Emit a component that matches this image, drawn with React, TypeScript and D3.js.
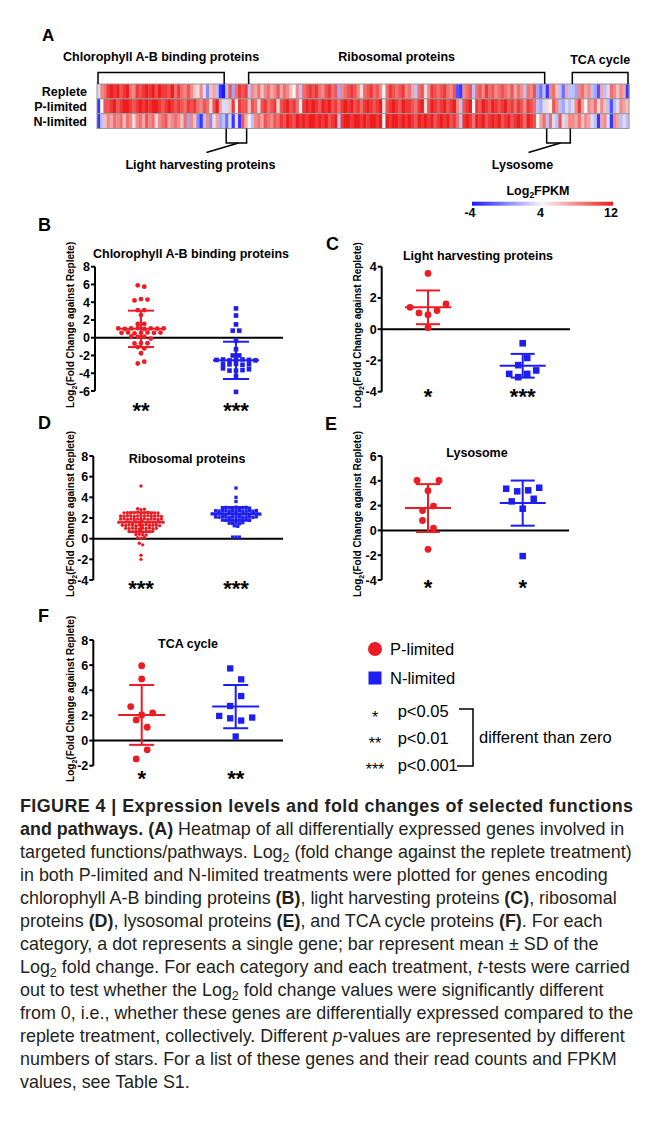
import React from "react";
import * as d3 from "d3";

const FONT = "'Liberation Sans', Arial, Helvetica, sans-serif";
const RED = "#ec1c24";
const BLUE = "#1e1ef0";
const HEAT_BLUE = "#1a1aff";
const HEAT_WHITE = "#f6f6f6";
const HEAT_RED = "#ee1c1c";

// ---------------- Panel A: heatmap (Log2 FPKM) ----------------
const heatGroupNames = [
  "Chlorophyll A-B binding proteins",
  "Light harvesting proteins",
  "Ribosomal proteins",
  "Lysosome",
  "TCA cycle",
];
const heatGroupSizes = [40, 7, 93, 8, 18];
const heatRowNames = ["Replete", "P-limited", "N-limited"];
const heatReplete = [
  3, 8, 9, 11, 12, 11, 12, 10, 11, 12, 9, 8, 11, 10, 11, 12, 11, 12, 10, 12, 11, 11, 10, 12, 9, 11, 9, 8, 10, 8, 6, 5, 8, 3, 0, 6, 7, 2, -3, -4,
  2, 10, 1, 9, 11, 10, 11,
  2, 8, 7, 9, 6, 8, 9, 7, 8, 10, 7, 9, 8, 6, 4, 8, 2, 9, 10, 11, 10, 11, 9, 8, 10, 11, 9, 10, 1, 8, 9, 10, 11, 10, 8, 5, 9, 10, 11, 9,
  10, 8, 4, 9, 11, 10, 9, 10, 11, 8, 9, 7, 2, 9, 10, 5, 8, 11, 10, 9, 10, 11, 9, 8, 10, -2, -3, 8, 9, 10, 2, 9, 10, 8, 11, 9, 10, 8, 9, 10,
  9, 8, 10, 7, 9, 8, 2, 9, 8, 10, 1, -1, 2,
  -3, 8, 9, 6, 2, -1, 7, 2,
  2, 1, 8, 9, 7, 8, 2, 1, -2, 7, 2, 3, 9, 8, 6, 8, 7, -3,
];
const heatPLimited = [
  -3, 4, 10, 10, 11, 12, 10, 11, 12, 12, 11, 10, 11, 12, 11, 12, 11, 12, 12, 11, 10, 11, 12, 11, 10, 11, 10, 9, 11, 10, 11, 9, 8, 10, 9, 5, 10, 12, 7, 3,
  3, 6, 11, 4, 11, 10, 10,
  6, 10, 9, 5, 10, 11, 9, 10, 11, 5, 10, 11, 12, 10, 11, 9, 4, 11, 12, 11, 12, 11, 10, 12, 11, 12, 10, 11, 9, 11, 12, 11, 12, 10, 11, 9, 11, 12, 11, 10,
  11, 12, 5, 10, 11, 12, 11, 10, 12, 11, 11, 10, 9, 11, 12, 5, 10, 12, 11, 10, 11, 12, 10, 11, 12, 8, 2, 10, 11, 12, 4, 11, 10, 12, 11, 10, 12, 11, 10, 11,
  12, 10, 11, 9, 11, 10, 8, 11, 10, 9, 2, 1, 3,
  5, 4, 10, 8, 2, 1, 3, 2,
  3, 8, 11, 7, 4, 8, 7, 9, 5, 8, 6, 2, -2, 2, 3, 8, 7, 6,
];
const heatNLimited = [
  -3, 2, 6, 8, 7, 9, 8, 9, 6, 9, 8, 5, 8, 9, 7, 10, 8, 9, 5, 8, 9, 10, 7, 8, 9, 8, 6, 9, 1, 8, 6, 0, -3, 2, 8, 0, 5, 7, 1, 2,
  -1, 3, -3, 5, -3, 10, 7,
  4, 2, 8, 9, 7, 10, 9, 8, 10, 9, 11, 10, 12, 11, 10, 12, 11, 12, 11, 12, 12, 11, 12, 11, 12, 10, 11, 12, 2, 11, 12, 12, 11, 12, 12, 11, 12, 11, 12, 12,
  11, 12, 4, 12, 11, 12, 12, 11, 12, 11, 12, 11, 10, 12, 11, 12, 11, 12, 10, 11, 12, 11, 12, 10, 11, 9, 2, 11, 12, 11, 9, 12, 11, 12, 10, 11, 12, 11, 12, 10,
  11, 12, 10, 11, 12, 11, 9, 12, 11, 10, 4, 7, 9,
  2, 9, 3, 2, 10, 3, 6, 8,
  8, 7, 9, 6, 8, 7, 3, 2, -3, 7, 8, 3, -3, 8, 7, 2, 3, 2,
];
const colorbarTicks = [-4, 4, 12];

// ---------------- Panels B-F: Log2 fold change vs replete ----------------
// B: Chlorophyll A-B binding proteins
const chlP = [5.9, 5.75, 4.2, 4.35, 4.3, 3.1, 3.1, 2.55, 1.55, 1.55, 1.05, 1.0, 1.05, 1.08, 1.0, 1.05, 1.02, 1.05, 0.55, 0.6, 0.5, 0.55, 0.6, 0.55, 0.58, 0.15, 0.1, 0.12, -0.1, -0.65, -0.6, -0.62, -1.05, -1.2, -1.75, -2.9, -2.7];
const chlN = [3.3, 2.5, 1.5, 0.8, 0.8, -0.3, -1.3, -2.0, -2.0, -2.5, -2.45, -2.55, -2.5, -2.45, -2.5, -2.55, -3.0, -3.0, -2.95, -3.05, -3.0, -3.45, -3.7, -3.7, -3.65, -3.55, -4.3, -6.1];
const chlMean = [1.0, -2.55];
const chlSD = [2.05, 2.1];
const chlStars = ["**", "***"];
const chlTicks = [-6, -4, -2, 0, 2, 4, 6, 8];

// C: Light harvesting proteins
const lhP = [3.57, 1.4, 1.04, 0.93, 1.19, 1.62, 0.1];
const lhN = [-0.9, -2.3, -1.84, -2.86, -3.07, -2.86, -2.64];
const lhMean = [1.4, -2.34];
const lhSD = [1.08, 0.76];
const lhStars = ["*", "***"];
const lhTicks = [-4, -2, 0, 2, 4];

// D: Ribosomal proteins
const riboP = [
  5.1,
  2.9, 2.8, 2.85,
  2.5, 2.52, 2.48, 2.5, 2.55, 2.47, 2.5, 2.53, 2.45, 2.5, 2.49,
  2.2, 2.18, 2.22, 2.2, 2.15, 2.21, 2.19, 2.2, 2.23, 2.17, 2.2, 2.2, 2.16,
  1.9, 1.92, 1.88, 1.9, 1.85, 1.91, 1.89, 1.93, 1.87, 1.9, 1.9, 1.86, 1.92,
  1.6, 1.58, 1.62, 1.6, 1.55, 1.61, 1.59, 1.63, 1.57, 1.6, 1.6, 1.56, 1.62, 1.6,
  1.3, 1.28, 1.32, 1.3, 1.25, 1.31, 1.29, 1.33, 1.27, 1.3, 1.3, 1.26,
  1.0, 0.98, 1.02, 1.0, 0.95, 1.01, 0.99, 1.03, 0.97, 1.0,
  0.7, 0.68, 0.72, 0.7, 0.65, 0.71, 0.69, 0.73,
  0.4, 0.42, 0.38, 0.35,
  0.1, 0.05, 0.12,
  -0.45, -0.6,
  -1.6, -2.0,
];
const riboN = [
  4.9, 4.0, 3.6,
  3.0, 3.02, 2.98, 3.0, 3.05, 2.97, 3.0, 3.03, 2.96,
  2.7, 2.68, 2.72, 2.7, 2.65, 2.71, 2.69, 2.73, 2.67, 2.7, 2.7, 2.66, 2.72,
  2.4, 2.38, 2.42, 2.4, 2.35, 2.41, 2.39, 2.43, 2.37, 2.4, 2.4, 2.36, 2.42, 2.4, 2.38,
  2.1, 2.08, 2.12, 2.1, 2.05, 2.11, 2.09, 2.13, 2.07, 2.1, 2.1, 2.06, 2.12,
  1.8, 1.78, 1.82, 1.8, 1.75, 1.81, 1.79, 1.83, 1.77,
  1.5, 1.48, 1.52, 1.45, 1.55,
  1.25, 1.2,
  0.15, 0.15, 0.15,
];
const riboMean = [1.6, 2.4];
const riboSD = [0.95, 0.65];
const riboStars = ["***", "***"];
const riboTicks = [-4, -2, 0, 2, 4, 6, 8];

// E: Lysosome
const lysoP = [4.03, 3.2, 4.03, 1.6, 1.96, 0.8, 0.19, -1.53];
const lysoN = [3.36, 3.15, 3.23, 3.44, 2.34, 1.75, 2.55, -2.07];
const lysoMean = [1.8, 2.2];
const lysoSD = [1.93, 1.82];
const lysoStars = ["*", "*"];
const lysoTicks = [-4, -2, 0, 2, 4, 6];

// F: TCA cycle
const tcaP = [5.95, 4.9, 2.7, 2.04, 2.2, 1.64, 1.06, -1.46, -0.74];
const tcaN = [5.74, 4.87, 2.75, 3.54, 1.96, 1.77, 1.59, 1.83, 0.32];
const tcaMean = [2.04, 2.7];
const tcaSD = [2.38, 1.72];
const tcaStars = ["*", "**"];
const tcaTicks = [-2, 0, 2, 4, 6, 8];

const legendLabels = ["P-limited", "N-limited"];
const legendStars = ["*", "**", "***"];
const legendP = ["p<0.05", "p<0.01", "p<0.001"];

const caption: [string, string][][] = [
  [["FIGURE 4 | Expression levels and fold changes of selected functions", "b"]],
  [["and pathways. (A)", "b"], [" Heatmap of all differentially expressed genes involved in", ""]],
  [["targeted functions/pathways. Log", ""], ["2", "sub"], [" (fold change against the replete treatment)", ""]],
  [["in both P-limited and N-limited treatments were plotted for genes encoding", ""]],
  [["chlorophyll A-B binding proteins ", ""], ["(B)", "b"], [", light harvesting proteins ", ""], ["(C)", "b"], [", ribosomal", ""]],
  [["proteins ", ""], ["(D)", "b"], [", lysosomal proteins ", ""], ["(E)", "b"], [", and TCA cycle proteins ", ""], ["(F)", "b"], [". For each", ""]],
  [["category, a dot represents a single gene; bar represent mean ± SD of the", ""]],
  [["Log", ""], ["2", "sub"], [" fold change. For each category and each treatment, ", ""], ["t", "i"], ["-tests were carried", ""]],
  [["out to test whether the Log", ""], ["2", "sub"], [" fold change values were significantly different", ""]],
  [["from 0, i.e., whether these genes are differentially expressed compared to the", ""]],
  [["replete treatment, collectively. Different ", ""], ["p", "i"], ["-values are represented by different", ""]],
  [["numbers of stars. For a list of these genes and their read counts and FPKM", ""]],
  [["values, see Table S1.", ""]],
];

// GraphPad-like scatter: values close in y share a row and are spread horizontally
function swarm(vals: number[], y: (v: number) => number, thr: number, step: number): number[] {
  const idx = vals.map((_, i) => i).sort((a, b) => vals[b] - vals[a]);
  const bins: number[][] = [];
  let cur: number[] = [];
  let top = 0;
  for (const i of idx) {
    const py = y(vals[i]);
    if (cur.length && py - top <= thr) cur.push(i);
    else {
      if (cur.length) bins.push(cur);
      cur = [i];
      top = py;
    }
  }
  if (cur.length) bins.push(cur);
  const off = new Array(vals.length).fill(0);
  for (const b of bins) {
    const ord = [...b].sort((a, c) => a - c);
    ord.forEach((i, j) => (off[i] = (j - (ord.length - 1) / 2) * step));
  }
  return off;
}

type Cfg = {
  letter: string; lx: number; ly: number; title: string; tx: number; ty: number;
  axisX: number; yTop: number; yBot: number; ticks: number[]; lineEnd: number;
  cx: number[]; starY: number; ylabX: number; r: number; sq: number; thr: number; step: number;
  capW: number; meanW: number; p: number[]; n: number[]; mean: number[]; sd: number[]; stars: string[];
};

function Panel({ c }: { c: Cfg }) {
  const y = d3.scaleLinear().domain([c.ticks[0], c.ticks[c.ticks.length - 1]]).range([c.yBot, c.yTop]);
  const offP = swarm(c.p, y, c.thr, c.step);
  const offN = swarm(c.n, y, c.thr, c.step);
  const cols = [RED, BLUE];
  return (
    <g>
      <text x={c.lx} y={c.ly} fontSize={18} fontWeight={700}>{c.letter}</text>
      <text x={c.tx} y={c.ty} textAnchor="middle" fontSize={12.5} fontWeight={700}>{c.title}</text>
      <text transform={`translate(${c.ylabX},${(c.yTop + c.yBot) / 2 - 4}) rotate(-90)`} textAnchor="middle" fontSize={10} fontWeight={700}>
        Log<tspan dy={3} fontSize={7}>2</tspan><tspan dy={-3}>(Fold Change against Replete)</tspan>
      </text>
      <line x1={c.axisX} x2={c.axisX} y1={c.yTop} y2={c.yBot} stroke="#000" strokeWidth={2} />
      {c.ticks.map((t) => (
        <g key={t}>
          <line x1={c.axisX - 4} x2={c.axisX} y1={y(t)} y2={y(t)} stroke="#000" strokeWidth={2} />
          <text x={c.axisX - 5} y={y(t) + 4.5} textAnchor="end" fontSize={12.5} fontWeight={700}>{t}</text>
        </g>
      ))}
      <line x1={c.axisX} x2={c.lineEnd} y1={y(0)} y2={y(0)} stroke="#000" strokeWidth={2} />
      {c.p.map((v, i) => (
        <circle key={"p" + i} cx={c.cx[0] + offP[i]} cy={y(v)} r={c.r} fill={RED} />
      ))}
      {c.n.map((v, i) => (
        <rect key={"n" + i} x={c.cx[1] + offN[i] - c.sq / 2} y={y(v) - c.sq / 2} width={c.sq} height={c.sq} fill={BLUE} />
      ))}
      {c.mean.map((m, gi) => {
        const x = c.cx[gi];
        const hi = y(m + c.sd[gi]);
        const lo = y(m - c.sd[gi]);
        return (
          <g key={"e" + gi} stroke={cols[gi]} strokeWidth={2}>
            <line x1={x} x2={x} y1={hi} y2={lo} />
            <line x1={x - c.capW} x2={x + c.capW} y1={hi} y2={hi} />
            <line x1={x - c.capW} x2={x + c.capW} y1={lo} y2={lo} />
            <line x1={x - c.meanW} x2={x + c.meanW} y1={y(m)} y2={y(m)} />
          </g>
        );
      })}
      {c.stars.map((s, gi) => (
        <text key={"s" + gi} x={c.cx[gi]} y={c.starY + 12.8} textAnchor="middle" fontSize={22} fontWeight={700}>{s}</text>
      ))}
    </g>
  );
}

export default function App() {
  const heatRows = [heatReplete, heatPLimited, heatNLimited];
  const nGenes = heatReplete.length;
  const hx = d3.scaleBand<number>().domain(d3.range(nGenes)).range([97, 629]);
  const hy = d3.scaleBand<string>().domain(heatRowNames).range([84, 128.5]);
  const bw = hx.bandwidth();
  const color = d3.scaleLinear<string>().domain([-4, 4, 12]).range([HEAT_BLUE, HEAT_WHITE, HEAT_RED]).clamp(true);
  const starts = heatGroupSizes.map((_, i) => d3.sum(heatGroupSizes.slice(0, i)));
  const gx0 = (i: number) => (hx(starts[i]) as number) + 1;
  const gx1 = (i: number) => (hx(starts[i] + heatGroupSizes[i] - 1) as number) + bw - 1;

  const cbX = d3.scaleLinear().domain([-4, 12]).range([472, 613]);

  const panels: Cfg[] = [
    { letter: "B", lx: 38, ly: 231, title: "Chlorophyll A-B binding proteins", tx: 191, ty: 257.5, axisX: 95, yTop: 266.7, yBot: 391, ticks: chlTicks, lineEnd: 283, cx: [141, 236], starY: 405, ylabX: 73.5, r: 2.4, sq: 4.6, thr: 3.8, step: 6.5, capW: 13, meanW: 23, p: chlP, n: chlN, mean: chlMean, sd: chlSD, stars: chlStars },
    { letter: "C", lx: 326, ly: 250, title: "Light harvesting proteins", tx: 478, ty: 259.5, axisX: 381.7, yTop: 266.7, yBot: 391.7, ticks: lhTicks, lineEnd: 570, cx: [428, 522.7], starY: 391, ylabX: 360.5, r: 3.4, sq: 6.6, thr: 11.5, step: 9, capW: 12, meanW: 23, p: lhP, n: lhN, mean: lhMean, sd: lhSD, stars: lhStars },
    { letter: "D", lx: 38, ly: 429, title: "Ribosomal proteins", tx: 187, ty: 462.5, axisX: 93.3, yTop: 456, yBot: 580, ticks: riboTicks, lineEnd: 283, cx: [141, 236], starY: 583, ylabX: 73.5, r: 1.7, sq: 3.3, thr: 2.6, step: 3.4, capW: 12, meanW: 23, p: riboP, n: riboN, mean: riboMean, sd: riboSD, stars: riboStars },
    { letter: "E", lx: 325, ly: 430, title: "Lysosome", tx: 477, ty: 456.5, axisX: 381.7, yTop: 456, yBot: 580, ticks: lysoTicks, lineEnd: 569, cx: [428, 522.7], starY: 582, ylabX: 360.5, r: 3.4, sq: 6.5, thr: 10.5, step: 11, capW: 12, meanW: 23, p: lysoP, n: lysoN, mean: lysoMean, sd: lysoSD, stars: lysoStars },
    { letter: "F", lx: 38, ly: 622, title: "TCA cycle", tx: 188, ty: 647.5, axisX: 93.3, yTop: 640, yBot: 765.7, ticks: tcaTicks, lineEnd: 283, cx: [141.7, 235.7], starY: 773, ylabX: 73.5, r: 3.4, sq: 6.3, thr: 11.2, step: 11, capW: 12.5, meanW: 23.5, p: tcaP, n: tcaN, mean: tcaMean, sd: tcaSD, stars: tcaStars },
  ];

  return (
    <svg width={654} height={1145} style={{ position: "absolute", left: 0, top: 0, background: "#fff" }} fontFamily={FONT} fill="#000">
      <defs>
        <linearGradient id="cbar" x1="0" x2="1" y1="0" y2="0">
          {[0, 0.25, 0.5, 0.75, 1].map((o) => (
            <stop key={o} offset={o} stopColor={color(-4 + o * 16)} />
          ))}
        </linearGradient>
      </defs>
      <rect width={654} height={1145} fill="#fff" />

      {/* Panel A */}
      <text x={42} y={41} fontSize={17} fontWeight={700}>A</text>
      {heatRows.map((row, ri) => (
        <g key={ri}>
          {row.map((v, i) => (
            <rect key={i} x={hx(i) as number} y={hy(heatRowNames[ri]) as number} width={bw + 0.4} height={hy.bandwidth()} fill={color(v)} />
          ))}
          <rect x={97} y={hy(heatRowNames[ri]) as number} width={532} height={hy.bandwidth()} fill="none" stroke="#9a9a9a" strokeWidth={1} />
          <text x={87} y={(hy(heatRowNames[ri]) as number) + hy.bandwidth() / 2 + 4.5} textAnchor="end" fontSize={12.5} fontWeight={700}>{heatRowNames[ri]}</text>
        </g>
      ))}
      {[0, 2, 4].map((gi) => {
        const a = gx0(gi), b = gx1(gi);
        return (
          <g key={gi}>
            <path d={`M${a},84V72.5H${b}V84`} fill="none" stroke="#000" strokeWidth={1.5} />
            <text x={(a + b) / 2} y={gi === 4 ? 63.5 : 61} textAnchor="middle" fontSize={12.5} fontWeight={700}>{heatGroupNames[gi]}</text>
          </g>
        );
      })}
      {[1, 3].map((gi) => {
        const a = gx0(gi), b = gx1(gi);
        const m = (a + b) / 2;
        return (
          <g key={gi}>
            <path d={`M${a},128.5V143H${b}V128.5`} fill="none" stroke="#000" strokeWidth={1.5} />
            <line x1={m + 2} y1={143} x2={m - 30} y2={152.5} stroke="#000" strokeWidth={1.5} />
            <text x={m - 36} y={168.5} textAnchor="middle" fontSize={12.5} fontWeight={700}>{heatGroupNames[gi]}</text>
          </g>
        );
      })}
      {/* colour bar */}
      <text x={538} y={195} textAnchor="middle" fontSize={12.5} fontWeight={700}>
        Log<tspan dy={3} fontSize={8.5}>2</tspan><tspan dy={-3}>FPKM</tspan>
      </text>
      <rect x={cbX(-4)} y={201.7} width={cbX(12) - cbX(-4)} height={4} fill="url(#cbar)" />
      {colorbarTicks.map((t) => (
        <text key={t} x={cbX(t) - 2} y={217} textAnchor="middle" fontSize={12.5} fontWeight={700}>{t}</text>
      ))}

      {panels.map((c) => (
        <Panel key={c.letter} c={c} />
      ))}

      {/* legend */}
      <circle cx={375} cy={649} r={7} fill={RED} />
      <text x={390} y={655} fontSize={16.5}>{legendLabels[0]}</text>
      <rect x={368.5} y={671.5} width={13} height={13} fill={BLUE} />
      <text x={390} y={684} fontSize={16.5}>{legendLabels[1]}</text>
      {legendStars.map((s, i) => (
        <g key={s}>
          <text x={375} y={722.5 + i * 26} textAnchor="middle" fontSize={16}>{s}</text>
          <text x={397.7} y={716.5 + i * 27.3} fontSize={16.5}>{legendP[i]}</text>
        </g>
      ))}
      <path d="M459,709H473V766H457" fill="none" stroke="#000" strokeWidth={1.5} />
      <text x={479} y={743} fontSize={16.5}>different than zero</text>

      {/* caption */}
      {caption.map((line, li) => {
        let shift = 0;
        const fullBold = line.length === 1 && line[0][1] === "b";
        return (
          <text
            key={li}
            x={20}
            y={811.5 + li * 23.05}
            fontSize={17.9}
            fill="#231f20"
            {...(fullBold ? { textLength: 613, lengthAdjust: "spacing" } : {})}
          >
            {line.map(([t, s], si) => {
              const want = s === "sub" ? 4.5 : 0;
              const dy = want - shift;
              shift = want;
              return (
                <tspan key={si} dy={dy} fontWeight={s === "b" ? 700 : 400} fontStyle={s === "i" ? "italic" : "normal"} fontSize={s === "sub" ? 12.5 : undefined}>
                  {t}
                </tspan>
              );
            })}
          </text>
        );
      })}
    </svg>
  );
}
